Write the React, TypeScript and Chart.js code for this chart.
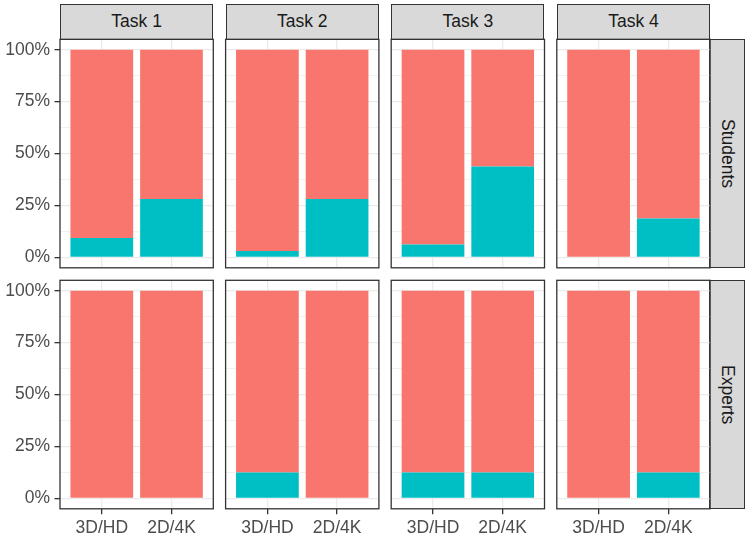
import React, { useEffect, useRef } from 'react';
import { Chart, registerables } from 'chart.js';

Chart.register(...registerables);

// ---------- data ----------
const TASKS = ['Task 1', 'Task 2', 'Task 3', 'Task 4'];
const GROUPS = ['Students', 'Experts'];
const DISPLAYS = ['3D/HD', '2D/4K'];
const Y_TICKS = [0, 12.5, 25, 37.5, 50, 62.5, 75, 87.5, 100];
const Y_LABELED = [0, 25, 50, 75, 100];

// share (%) per task, [3D/HD, 2D/4K]
const STUDENTS_TEAL = [[9.375, 28.125], [3.125, 28.125], [6.25, 43.75], [0, 18.75]];
const STUDENTS_SALMON = [[90.625, 71.875], [96.875, 71.875], [93.75, 56.25], [100, 81.25]];
const EXPERTS_TEAL = [[0, 0], [12.5, 0], [12.5, 12.5], [0, 12.5]];
const EXPERTS_SALMON = [[100, 100], [87.5, 100], [87.5, 87.5], [100, 87.5]];

const TEAL_BY_GROUP = [STUDENTS_TEAL, EXPERTS_TEAL];
const SALMON_BY_GROUP = [STUDENTS_SALMON, EXPERTS_SALMON];

// ---------- layout / style ----------
const W = 749;
const H = 537;
const PANEL_LEFT = [60, 225.6, 391.2, 556.8];
const PANEL_W = 153.3;
const PANEL_TOP = [39.3, 280.3];
const PANEL_H = 228.5;
const STRIP_TOP = 3.7;
const STRIP_RIGHT_W = 36;
const FONT_FAMILY = '"Liberation Sans", Arial, Helvetica, sans-serif';
const FONT_SIZE = 17.5;
const SALMON = '#F8766D';
const TEAL = '#00BFC4';
const GRID = '#EBEBEB';
const DARK = '#333333';

const framePlugin = {
  id: 'frame',
  afterDraw(chart: any) {
    const { left, top, right, bottom } = chart.chartArea;
    const ctx = chart.ctx;
    ctx.save();
    ctx.strokeStyle = DARK;
    ctx.lineWidth = 1.3;
    ctx.strokeRect(left, top, right - left, bottom - top);
    ctx.restore();
  },
};

function Panel({ row, col }: { row: number; col: number }) {
  const ref = useRef<HTMLCanvasElement | null>(null);
  useEffect(() => {
    if (!ref.current) return;
    const showY = col === 0;
    const showX = row === 1;
    const yAxisW = showY ? PANEL_LEFT[0] : 0;
    const xAxisH = showX ? H - (PANEL_TOP[1] + PANEL_H) : 0;
    const teal = TEAL_BY_GROUP[row][col];
    const salmon = SALMON_BY_GROUP[row][col];
    const chart = new Chart(ref.current, {
      type: 'bar',
      data: {
        datasets: [
          {
            label: 'teal',
            data: DISPLAYS.map((_, i) => ({ x: i + 1, y: teal[i] })),
            backgroundColor: TEAL,
            borderWidth: 0,
            barPercentage: 0.9,
            categoryPercentage: 1,
          },
          {
            label: 'salmon',
            data: DISPLAYS.map((_, i) => ({ x: i + 1, y: salmon[i] })),
            backgroundColor: SALMON,
            borderWidth: 0,
            barPercentage: 0.9,
            categoryPercentage: 1,
          },
        ],
      },
      options: {
        animation: false,
        responsive: false,
        maintainAspectRatio: false,
        events: [],
        layout: {
          padding: {
            left: showY ? 0 : PANEL_LEFT[col],
            right: W - (PANEL_LEFT[col] + PANEL_W),
            top: PANEL_TOP[row],
            bottom: showX ? 0 : H - (PANEL_TOP[row] + PANEL_H),
          },
        },
        plugins: { legend: { display: false }, tooltip: { enabled: false }, title: { display: false } },
        scales: {
          x: {
            type: 'linear',
            min: 0.4,
            max: 2.6,
            offset: false,
            stacked: true,
            afterBuildTicks: (s: any) => {
              s.ticks = DISPLAYS.map((_, i) => ({ value: i + 1 }));
            },
            afterFit: (s: any) => {
              s.height = xAxisH;
            },
            ticks: {
              display: showX,
              autoSkip: false,
              maxRotation: 0,
              padding: 3,
              color: '#4D4D4D',
              font: { family: FONT_FAMILY, size: FONT_SIZE },
              callback: (_v: any, i: number) => DISPLAYS[i],
            },
            grid: {
              offset: false,
              color: GRID,
              lineWidth: 1.3,
              drawTicks: showX,
              tickLength: 5.5,
              tickColor: DARK,
              tickWidth: 1.3,
            },
            border: { display: false },
          },
          y: {
            type: 'linear',
            min: -5,
            max: 105,
            stacked: true,
            afterBuildTicks: (s: any) => {
              s.ticks = Y_TICKS.map((v) => ({ value: v }));
            },
            afterFit: (s: any) => {
              s.width = yAxisW;
            },
            ticks: {
              display: showY,
              autoSkip: false,
              padding: 4.5,
              color: '#4D4D4D',
              font: { family: FONT_FAMILY, size: FONT_SIZE },
              callback: (v: any) => (Y_LABELED.includes(v) ? `${v}%` : ''),
            },
            grid: {
              color: GRID,
              lineWidth: (c: any) => (Y_LABELED.includes(c.tick?.value) ? 1.3 : 0.7),
              drawTicks: showY,
              tickLength: 5.5,
              tickColor: (c: any) => (Y_LABELED.includes(c.tick?.value) ? DARK : 'rgba(0,0,0,0)'),
              tickWidth: 1.3,
            },
            border: { display: false },
          },
        },
      },
      plugins: [framePlugin],
    } as any);
    return () => chart.destroy();
  }, [row, col]);
  return (
    <canvas
      ref={ref}
      width={W}
      height={H}
      style={{ position: 'absolute', left: 0, top: 0, width: W, height: H }}
    />
  );
}

const stripBase: React.CSSProperties = {
  position: 'absolute',
  boxSizing: 'border-box',
  background: '#D9D9D9',
  border: `1.3px solid ${DARK}`,
  display: 'flex',
  alignItems: 'center',
  justifyContent: 'center',
  fontFamily: FONT_FAMILY,
  fontSize: FONT_SIZE,
  color: '#1A1A1A',
  lineHeight: 1,
};

export default function App() {
  return (
    <div style={{ position: 'absolute', left: 0, top: 0, width: W, height: H, background: '#fff', overflow: 'hidden' }}>
      {TASKS.map((t, c) => (
        <div
          key={t}
          style={{
            ...stripBase,
            left: PANEL_LEFT[c],
            top: STRIP_TOP,
            width: PANEL_W,
            height: PANEL_TOP[0] - STRIP_TOP + 0.65,
          }}
        >
          {t}
        </div>
      ))}
      {GROUPS.map((g, r) => (
        <div
          key={g}
          style={{
            ...stripBase,
            left: PANEL_LEFT[3] + PANEL_W - 0.65,
            top: PANEL_TOP[r],
            width: STRIP_RIGHT_W,
            height: PANEL_H,
            writingMode: 'vertical-rl',
          }}
        >
          {g}
        </div>
      ))}
      {GROUPS.map((g, r) =>
        TASKS.map((t, c) => <Panel key={`${g}-${t}`} row={r} col={c} />)
      )}
    </div>
  );
}
